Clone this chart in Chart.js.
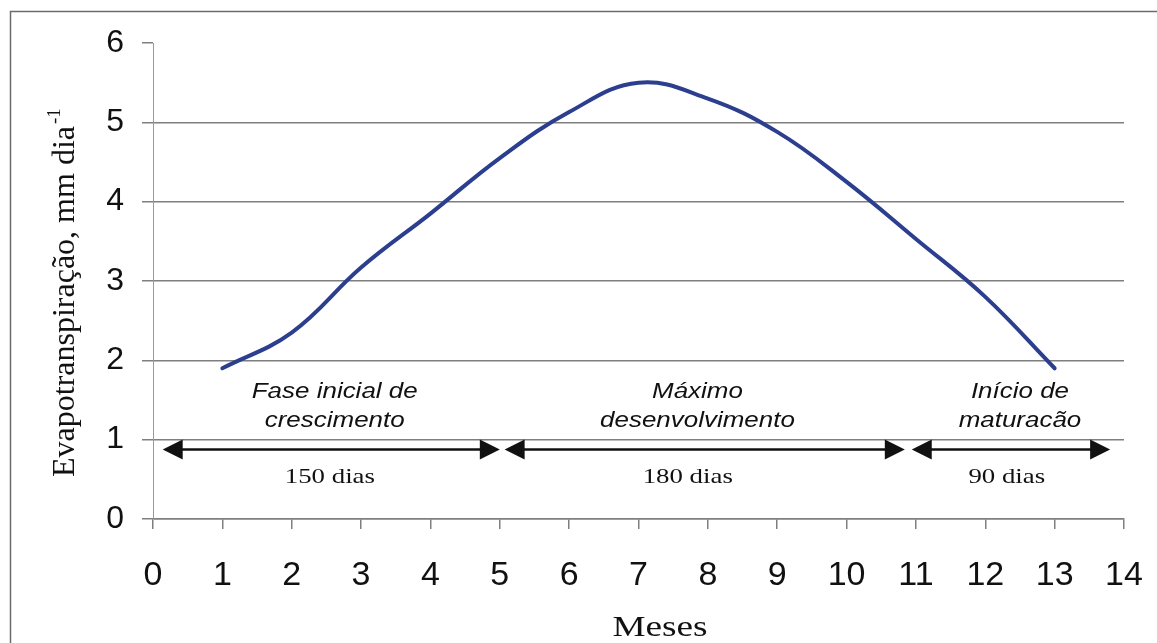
<!DOCTYPE html>
<html>
<head>
<meta charset="utf-8">
<script src="https://cdn.jsdelivr.net/npm/chart.js@4.4.1/dist/chart.umd.min.js"></script>
<style>
html,body{margin:0;padding:0;background:#ffffff;}
#wrap{width:1157px;height:643px;position:relative;}
</style>
</head>
<body>
<div id="wrap"><canvas id="c" width="1157" height="643"></canvas></div>
<script>
// ---- data ----
const months = [1, 2, 3, 4, 5, 6, 7, 8, 9, 10, 11, 12, 13];
const evapotranspiration = [1.9, 2.35, 3.17, 3.85, 4.55, 5.13, 5.5, 5.3, 4.88, 4.25, 3.53, 2.8, 1.9];
const xTickValues = [0, 1, 2, 3, 4, 5, 6, 7, 8, 9, 10, 11, 12, 13, 14];
const yTickValues = [0, 1, 2, 3, 4, 5, 6];
const xTitle = "Meses";
const yTitle = "Evapotranspiração, mm dia";
const yTitleSup = "-1";

// growth phases (in months along x, drawn through the x scale)
const phaseNames = [["Fase inicial de", "crescimento"], ["Máximo", "desenvolvimento"], ["Início de", "maturacão"]];
const phaseDurations = ["150 dias", "180 dias", "90 dias"];
const phaseStart = [0.14, 5.07, 10.94];
const phaseEnd = [5.0, 10.84, 13.8];
const phaseNameCenter = [2.62, 7.85, 12.5];
const phaseDurationCenter = [2.55, 7.71, 12.31];
const arrowLevel = 0.875;
const nameLine1Level = 1.525;
const nameLine2Level = 1.16;
const durationLevel = 0.454;

const GRID = '#7f7f7f';

const annotations = {
  id: 'annotations',
  beforeDraw(chart) {
    const ctx = chart.ctx;
    ctx.save();
    ctx.fillStyle = '#ffffff';
    ctx.fillRect(0, 0, chart.width, chart.height);
    ctx.strokeStyle = '#6b6b6b';
    ctx.lineWidth = 1.5;
    ctx.strokeRect(10.5, 11.5, 1400, 900);
    ctx.restore();
  },
  afterDraw(chart) {
    const ctx = chart.ctx;
    const xs = chart.scales.x, ys = chart.scales.y;
    ctx.save();
    ctx.fillStyle = '#111';
    ctx.strokeStyle = '#111';
    const ay = ys.getPixelForValue(arrowLevel);
    const head = 20, half = 10;
    for (let i = 0; i < phaseStart.length; i++) {
      const x1 = xs.getPixelForValue(phaseStart[i]);
      const x2 = xs.getPixelForValue(phaseEnd[i]);
      ctx.lineWidth = 2.5;
      ctx.beginPath();
      ctx.moveTo(x1 + head - 2, ay);
      ctx.lineTo(x2 - head + 2, ay);
      ctx.stroke();
      ctx.beginPath();
      ctx.moveTo(x1, ay);
      ctx.lineTo(x1 + head, ay - half);
      ctx.lineTo(x1 + head, ay + half);
      ctx.closePath();
      ctx.fill();
      ctx.beginPath();
      ctx.moveTo(x2, ay);
      ctx.lineTo(x2 - head, ay - half);
      ctx.lineTo(x2 - head, ay + half);
      ctx.closePath();
      ctx.fill();
    }
    const stretched = (text, cx, cy, font, sx) => {
      ctx.save();
      ctx.translate(cx, cy);
      ctx.scale(sx, 1);
      ctx.font = font;
      ctx.textAlign = 'center';
      ctx.textBaseline = 'alphabetic';
      ctx.fillText(text, 0, 0);
      ctx.restore();
    };
    const italicFont = 'italic 22px "Liberation Sans", Arial, sans-serif';
    const serifFont = '22px "Liberation Serif", "Times New Roman", serif';
    for (let i = 0; i < phaseNames.length; i++) {
      const cx = xs.getPixelForValue(phaseNameCenter[i]);
      stretched(phaseNames[i][0], cx, ys.getPixelForValue(nameLine1Level), italicFont, 1.18);
      stretched(phaseNames[i][1], cx, ys.getPixelForValue(nameLine2Level), italicFont, 1.18);
      stretched(phaseDurations[i], xs.getPixelForValue(phaseDurationCenter[i]), ys.getPixelForValue(durationLevel), serifFont, 1.22);
    }
    // x axis title
    stretched(xTitle, 660, 636, '30px "Liberation Serif", "Times New Roman", serif', 1.24);
    // y axis title with superscript
    ctx.save();
    ctx.translate(74, 477);
    ctx.rotate(-Math.PI / 2);
    ctx.textAlign = 'left';
    ctx.textBaseline = 'alphabetic';
    ctx.font = '32px "Liberation Serif", "Times New Roman", serif';
    ctx.fillText(yTitle, 0, 0);
    const w = ctx.measureText(yTitle).width;
    ctx.font = '19px "Liberation Serif", "Times New Roman", serif';
    ctx.fillText(yTitleSup, w + 2, -14);
    ctx.restore();
    ctx.restore();
  }
};

new Chart(document.getElementById('c'), {
  type: 'line',
  data: {
    datasets: [{
      label: 'Evapotranspiração',
      data: months.map((m, i) => ({ x: m, y: evapotranspiration[i] })),
      borderColor: '#2c3f8f',
      borderWidth: 4,
      pointRadius: 0,
      fill: false,
      tension: 0.4,
      borderCapStyle: 'round',
      borderJoinStyle: 'round'
    }]
  },
  options: {
    responsive: false,
    animation: false,
    layout: { padding: { left: 0, top: 43, right: 33, bottom: 0 } },
    plugins: { legend: { display: false }, tooltip: { enabled: false } },
    scales: {
      x: {
        type: 'linear',
        min: xTickValues[0],
        max: xTickValues[xTickValues.length - 1],
        afterBuildTicks: (s) => { s.ticks = xTickValues.map(v => ({ value: v })); },
        afterFit: (s) => { s.height = 124; s.paddingLeft = 0; s.paddingRight = 0; },
        ticks: {
          autoSkip: false,
          maxRotation: 0,
          padding: 26,
          color: '#111',
          font: { family: '"Liberation Sans", Arial, sans-serif', size: 34 }
        },
        grid: { drawOnChartArea: false, drawTicks: true, tickLength: 10, color: GRID, lineWidth: 1.5 },
        border: { color: GRID, width: 1.5 }
      },
      y: {
        min: yTickValues[0],
        max: yTickValues[yTickValues.length - 1],
        afterBuildTicks: (s) => { s.ticks = yTickValues.map(v => ({ value: v })); },
        afterFit: (s) => { s.width = 153; s.paddingTop = 0; s.paddingBottom = 0; },
        ticks: {
          padding: 18,
          color: '#111',
          font: { family: '"Liberation Sans", Arial, sans-serif', size: 32 }
        },
        grid: {
          color: (c) => (c.tick && c.tick.value === 6) ? 'rgba(0,0,0,0)' : GRID,
          tickColor: GRID,
          tickLength: 11,
          lineWidth: 1.5
        },
        border: { color: '#9a9a9a', width: 1 }
      }
    }
  },
  plugins: [annotations]
});
</script>
</body>
</html>
